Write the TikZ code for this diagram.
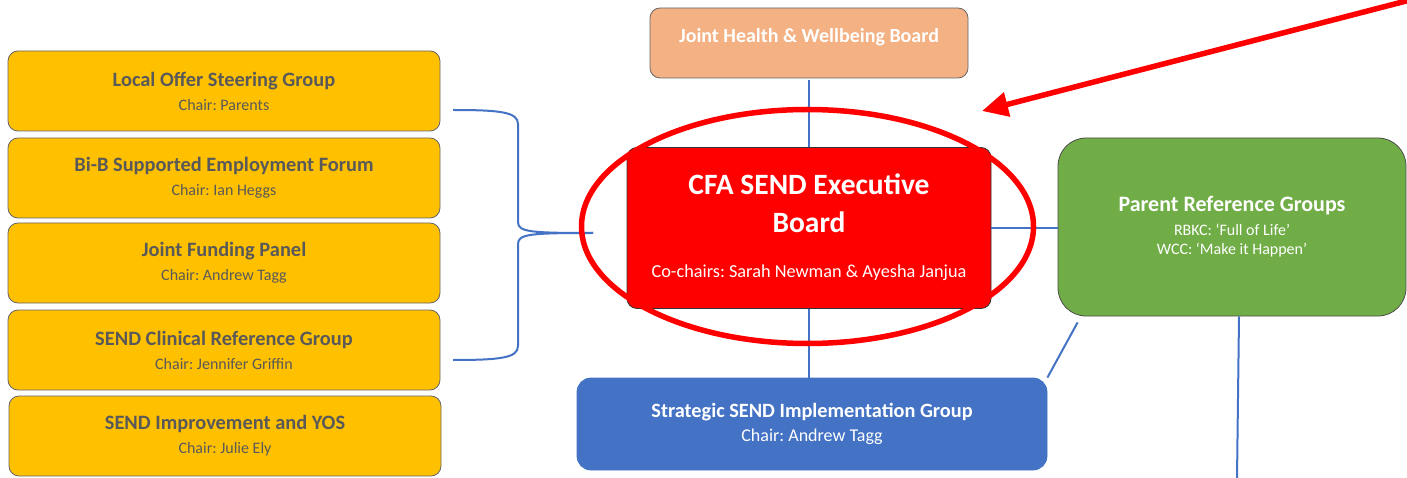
\documentclass[tikz,border=0pt]{standalone}
\usepackage{fontspec}
\setmainfont{Carlito}
\usetikzlibrary{arrows.meta,positioning}
\definecolor{amber}{HTML}{FFC000}
\definecolor{salmon}{HTML}{F4B183}
\definecolor{leaf}{HTML}{70AD47}
\definecolor{steel}{HTML}{4472C4}
\definecolor{ink}{HTML}{595959}
\frenchspacing
\newcommand{\chair}[1]{{\fontsize{16}{19}\selectfont\mdseries #1}}
\tikzset{
  box/.style={rectangle, rounded corners=10pt, draw=black!60, line width=0.8pt, align=center, inner sep=2pt},
  group/.style={box, fill=amber, text=ink, minimum width=432pt, minimum height=80pt, font=\fontsize{20.4}{24}\selectfont\bfseries},
  link/.style={draw=steel, line width=2pt},
  ringline/.style={draw=red, line width=5.5pt}
}
\begin{document}
\begin{tikzpicture}[x=1pt,y=-1pt]
  \useasboundingbox (0,0) rectangle (1407,478);
  \node[group] (loc) at (224,91) {Local Offer Steering Group\\[0pt] \chair{Chair: Parents}};
  \node[group] (bib) at (224,178) {Bi-B Supported Employment Forum\\[0pt] \chair{Chair: Ian Heggs}};
  \node[group] (jfp) at (224,263) {Joint Funding Panel\\[0pt] \chair{Chair: Andrew Tagg}};
  \node[group] (scrg) at (224,350) {SEND Clinical Reference Group\\[0pt] \chair{Chair: Jennifer Griffin}};
  \node[group] (sia) at (225,436) {SEND Improvement and YOS\\[0pt] \chair{Chair: Julie Ely}};
  \node[box, fill=salmon, text=white, minimum width=318pt, minimum height=70pt, font=\fontsize{20}{24}\selectfont\bfseries] (jhw) at (809,43) {\raisebox{6pt}[\height][\depth]{Joint Health \& Wellbeing Board}};
  \node[box, fill=red, draw=black!80, text=white, minimum width=364pt, minimum height=161pt, font=\fontsize{29.5}{38}\selectfont\bfseries] (cfa) at (809,228) {\raisebox{2pt}[\height][\depth]{CFA SEND Executive}\\\raisebox{2pt}[\height][\depth]{Board}\\[5pt] {\fontsize{18.3}{22}\selectfont\mdseries Co-chairs: Sarah Newman \& Ayesha Janjua}};
  \node[box, fill=leaf, draw=black!70, text=white, rounded corners=28pt, minimum width=348pt, minimum height=178pt, font=\fontsize{22}{19}\selectfont\bfseries] (prg) at (1232,227) {Parent Reference Groups\\[5pt] \chair{RBKC: `Full of Life'}\\ \chair{WCC: `Make it Happen'}};
  \node[box, fill=steel, draw=steel, text=white, rounded corners=14pt, minimum width=470pt, minimum height=92pt, font=\fontsize{20.3}{24}\selectfont\bfseries] (ssig) at (812,424) {Strategic SEND Implementation Group\\[0pt] {\fontsize{18}{21}\selectfont\mdseries Chair: Andrew Tagg}};
  \coordinate (brtop) at (453,110);
  \coordinate (brbot) at (453,360);
  \coordinate (brtip) at (593,233);
  \coordinate (down) at (1237,478);
  \coordinate (far) at (1410,0);
  \coordinate (aim) at (982,111);
  \draw[link] (brtop) .. controls (500,110) and (518,112) .. (518,124) -- (518,222) .. controls (518,232) and (530,233) .. (brtip);
  \draw[link] (brbot) .. controls (500,360) and (518,358) .. (518,346) -- (518,244) .. controls (518,234) and (530,233) .. (brtip);
  \draw[link] ([yshift=-2pt]jhw.south) -- (cfa.north);
  \draw[link] (cfa.east) -- (cfa.east -| prg.west);
  \draw[link] (cfa.south) -- (cfa.south |- ssig.north);
  \draw[link] ([xshift=20pt,yshift=-6pt]prg.south west) -- (ssig.north east);
  \draw[link] ([xshift=7pt]prg.south) -- (down);
  \draw[ringline] (807.5,226.5) ellipse [x radius=226pt, y radius=117pt];
  \draw[ringline, -{Triangle[length=26pt,width=24pt]}] (far) -- (aim);
\end{tikzpicture}
\end{document}
